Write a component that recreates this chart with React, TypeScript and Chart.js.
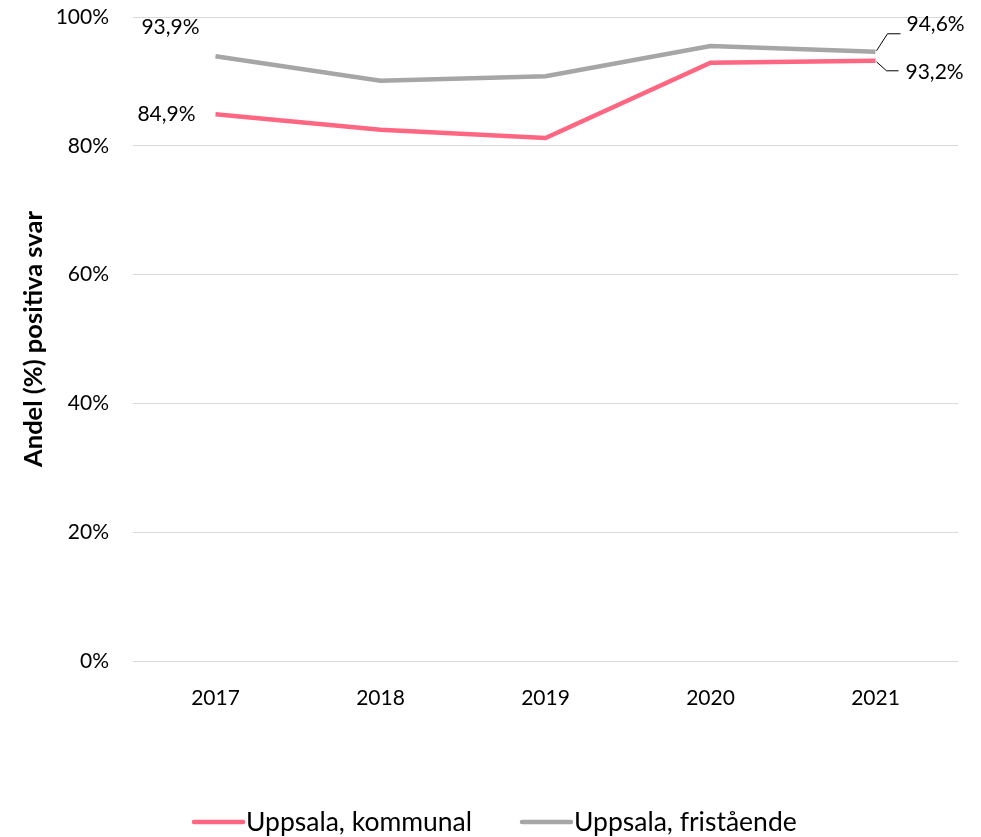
import React, { useEffect, useRef } from "react";
import { Chart, registerables } from "chart.js";

Chart.register(...registerables);

const years = ["2017", "2018", "2019", "2020", "2021"];
const kommunal = [84.9, 82.5, 81.2, 92.9, 93.2];
const fristaende = [93.9, 90.1, 90.8, 95.5, 94.6];
const seriesNames = ["Uppsala, kommunal", "Uppsala, fristående"];
const seriesColors = ["#ff6681", "#a6a6a6"];
const yTicks = [0, 20, 40, 60, 80, 100];

const FONT = "Lato, 'Open Sans', sans-serif";

const fmt = (v: number) => v.toFixed(1).replace(".", ",") + "%";

const labelPlugin = {
  id: "labelsAndLegend",
  afterDatasetsDraw(chart: any) {
    const ctx = chart.ctx;
    ctx.save();
    ctx.font = `21px ${FONT}`;
    ctx.fillStyle = "#000";
    ctx.textBaseline = "middle";
    const m0 = chart.getDatasetMeta(0).data;
    const m1 = chart.getDatasetMeta(1).data;
    ctx.textAlign = "center";
    ctx.fillText(fmt(fristaende[0]), m1[0].x - 45, m1[0].y - 29);
    ctx.fillText(fmt(kommunal[0]), m0[0].x - 49, m0[0].y);
    const g = m1[4];
    const p = m0[4];
    ctx.strokeStyle = "#000";
    ctx.lineWidth = 1;
    ctx.beginPath();
    ctx.moveTo(g.x + 1, g.y - 1);
    ctx.lineTo(g.x + 12, g.y - 18);
    ctx.lineTo(g.x + 25, g.y - 18);
    ctx.stroke();
    ctx.beginPath();
    ctx.moveTo(p.x + 1, p.y + 1);
    ctx.lineTo(p.x + 11, p.y + 10);
    ctx.lineTo(p.x + 23, p.y + 10);
    ctx.stroke();
    ctx.textAlign = "left";
    ctx.fillText(fmt(fristaende[4]), g.x + 31, g.y - 28);
    ctx.fillText(fmt(kommunal[4]), p.x + 30, p.y + 11);

    ctx.font = `26.5px ${FONT}`;
    const ly = 822;
    const items = [
      { x: 194, name: seriesNames[0], color: seriesColors[0] },
      { x: 522, name: seriesNames[1], color: seriesColors[1] },
    ];
    items.forEach((it) => {
      ctx.strokeStyle = it.color;
      ctx.lineWidth = 4.5;
      ctx.lineCap = "round";
      ctx.beginPath();
      ctx.moveTo(it.x, ly);
      ctx.lineTo(it.x + 49, ly);
      ctx.stroke();
      ctx.fillStyle = "#000";
      ctx.textAlign = "left";
      ctx.fillText(it.name, it.x + 52, ly);
    });
    ctx.restore();
  },
};

export default function App() {
  const ref = useRef<HTMLCanvasElement | null>(null);
  useEffect(() => {
    document.body.style.margin = "0";
    if (!ref.current) return;
    const chart = new Chart(ref.current, {
      type: "line",
      data: {
        labels: years,
        datasets: [
          {
            label: seriesNames[0],
            data: kommunal,
            borderColor: seriesColors[0],
            backgroundColor: seriesColors[0],
            borderWidth: 4.5,
            pointRadius: 0,
            tension: 0,
          },
          {
            label: seriesNames[1],
            data: fristaende,
            borderColor: seriesColors[1],
            backgroundColor: seriesColors[1],
            borderWidth: 4.5,
            pointRadius: 0,
            tension: 0,
          },
        ],
      },
      options: {
        animation: false,
        responsive: false,
        layout: { padding: { top: 17, right: 23, bottom: 0, left: 0 } },
        plugins: {
          legend: { display: false },
          tooltip: { enabled: false },
        },
        scales: {
          x: {
            offset: true,
            grid: { display: false },
            border: { display: false },
            ticks: {
              padding: 17,
              color: "#000",
              font: { family: FONT, size: 21 },
            },
            afterFit: (s: any) => {
              s.height = 176;
              s.paddingLeft = 0;
              s.paddingRight = 0;
            },
          },
          y: {
            min: 0,
            max: 100,
            afterBuildTicks: (s: any) => {
              s.ticks = yTicks.map((v) => ({ value: v }));
            },
            grid: { color: "#d9d9d9", lineWidth: 1, drawTicks: false },
            border: { display: false },
            ticks: {
              padding: 24,
              color: "#000",
              font: { family: FONT, size: 21 },
              callback: (v: any) => v + "%",
            },
            title: {
              display: true,
              text: "Andel (%) positiva svar",
              color: "#000",
              font: { family: FONT, size: 25.5, weight: "bold" },
              padding: { top: 18, bottom: 0 },
            },
            afterFit: (s: any) => {
              s.width = 133;
              s.paddingTop = 0;
              s.paddingBottom = 0;
            },
          },
        },
      },
      plugins: [labelPlugin],
    });
    return () => chart.destroy();
  }, []);
  return (
    <div style={{ position: "absolute", left: 0, top: 0, width: 981, height: 837 }}>
      <canvas ref={ref} width={981} height={837} />
    </div>
  );
}
